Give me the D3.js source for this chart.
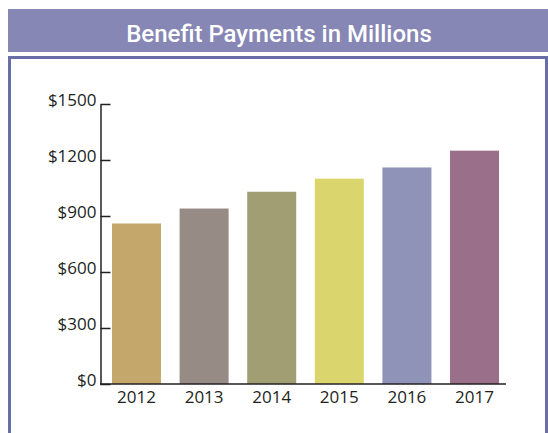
<!DOCTYPE html>
<html>
<head>
<meta charset="utf-8">
<script src="https://cdn.jsdelivr.net/npm/d3@7"></script>
<style>
  body { margin: 0; background: #fff; }
  .tick text { font-family: "Open Sans", sans-serif; fill: #231f20; }
</style>
</head>
<body>
<script>
var years = ["2012", "2013", "2014", "2015", "2016", "2017"];
var payments = [860, 940, 1030, 1100, 1160, 1250];
var barColors = ["#c4a86b", "#978b86", "#a19e74", "#dad66d", "#8f93b8", "#9a6f89"];
var yTicks = [0, 300, 600, 900, 1200, 1500];
var title = "Benefit Payments in Millions";

var data = years.map(function (d, i) {
    return {year: d, value: payments[i], color: barColors[i]};
});

var W = 548, H = 433;

var svg = d3.select("body").append("svg")
    .attr("width", W)
    .attr("height", H);

// title band
svg.append("rect")
    .attr("x", 8).attr("y", 9)
    .attr("width", W - 8).attr("height", 43)
    .attr("fill", "#8687b4");

svg.append("text")
    .attr("x", 279).attr("y", 41.5)
    .attr("text-anchor", "middle")
    .attr("fill", "#fff")
    .style("font-family", "Roboto, sans-serif")
    .style("font-weight", 500)
    .style("font-size", "24px")
    .text(title);

// frame (open at the bottom)
svg.append("path")
    .attr("d", "M9.5,445 V57.5 H546.5 V445")
    .attr("fill", "none")
    .attr("stroke", "#6a6ea8")
    .attr("stroke-width", 3);

var x = d3.scaleBand()
    .domain(years)
    .range([102.7, 508.3])
    .paddingInner(0.275)
    .paddingOuter(0.1375);

var y = d3.scaleLinear()
    .domain([0, 1500])
    .range([384, 104]);

svg.selectAll(".bar")
    .data(data)
    .enter()
    .append("rect")
    .attr("class", "bar")
    .attr("x", function (d) { return x(d.year); })
    .attr("width", x.bandwidth())
    .attr("y", function (d) { return y(d.value); })
    .attr("height", function (d) { return y(0) - y(d.value); })
    .attr("fill", function (d) { return d.color; });

// y axis, ticks pointing inward
var yAxis = svg.append("g")
    .attr("transform", "translate(100.5,0)")
    .call(d3.axisRight(y).tickValues(yTicks).tickSize(10).tickSizeOuter(0)
        .tickFormat(function (d) { return "$" + d; }));
yAxis.select(".domain").attr("stroke", "#231f20").attr("stroke-width", 1.5);
yAxis.selectAll(".tick line").attr("stroke", "#231f20").attr("stroke-width", 1.5);
yAxis.selectAll(".tick text")
    .attr("x", -4)
    .attr("dy", "0.08em")
    .attr("text-anchor", "end")
    .style("font-size", "17px");

// x axis
var xAxis = svg.append("g")
    .attr("transform", "translate(0," + y(0) + ")")
    .call(d3.axisBottom(x).tickSize(0));
xAxis.select(".domain").remove();
xAxis.append("line")
    .attr("x1", 100).attr("x2", 506)
    .attr("stroke", "#231f20").attr("stroke-width", 1.5);
xAxis.selectAll(".tick text")
    .attr("y", 7)
    .attr("dy", "0.71em")
    .style("font-size", "17px");
</script>
</body>
</html>
